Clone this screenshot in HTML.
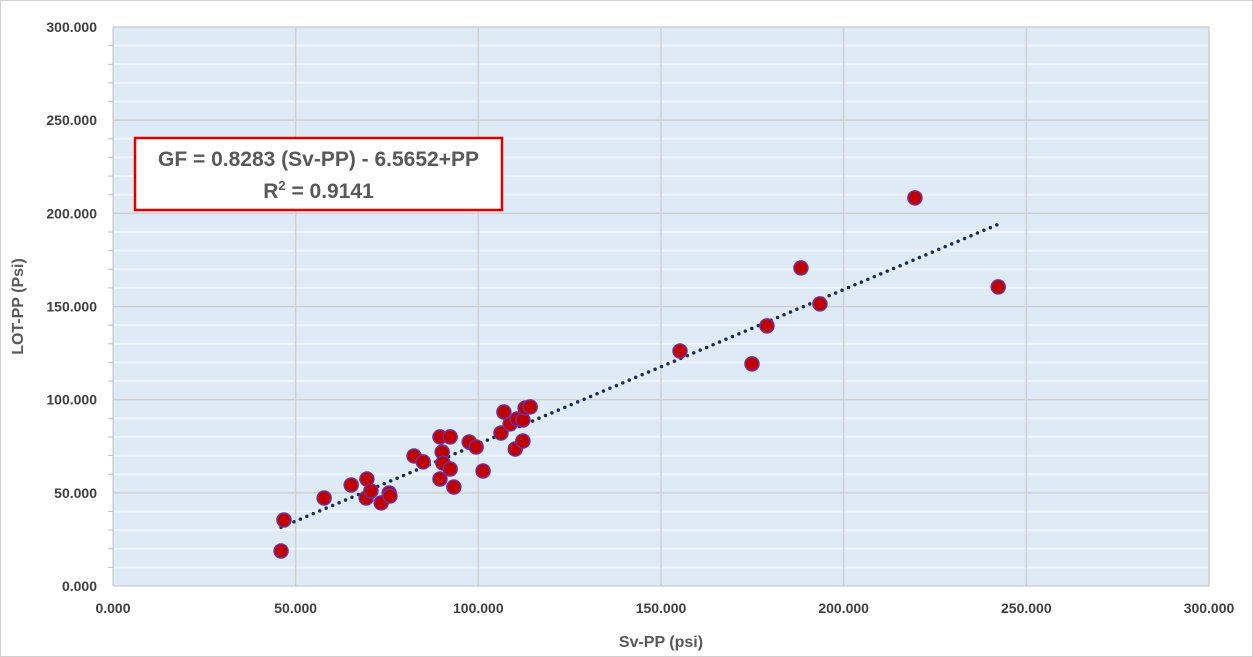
<!DOCTYPE html>
<html><head><meta charset="utf-8"><style>
body{margin:0;background:#fff;}
svg{display:block;font-family:"Liberation Sans",sans-serif;}
</style></head><body>
<svg id="chart" width="1253" height="657">
<rect x="0.5" y="0.5" width="1252" height="656" fill="#fff" stroke="#d0d0d0"/>
<g id="plot"></g>
</svg>
<script>
const xVals=[46.0,46.8,57.8,65.2,69.5,69.3,70.6,73.4,75.6,75.8,82.4,84.9,89.5,90.1,89.5,90.3,92.3,92.3,93.3,97.5,99.4,101.3,106.2,107.0,108.7,110.1,110.6,112.2,112.2,112.8,114.2,155.2,174.9,179.0,188.3,193.5,219.5,242.3];
const yVals=[18.8,35.4,47.2,54.2,57.4,47.2,51.0,44.6,49.9,48.3,69.8,66.6,80.0,71.9,57.4,66.0,80.0,62.8,53.1,77.3,74.6,61.7,82.1,93.4,87.0,73.5,89.6,89.1,77.8,95.5,96.1,126.1,119.2,139.6,170.7,151.4,208.3,160.5];
const xTicks=[0,50,100,150,200,250,300];
const yTicks=[0,50,100,150,200,250,300];
const xTickLabels=["0.000","50.000","100.000","150.000","200.000","250.000","300.000"];
const yTickLabels=["0.000","50.000","100.000","150.000","200.000","250.000","300.000"];
const trendSlope=0.8283, trendIntercept=-6.5652;
const L=113,R=1209,T=27,B=586;
const sx=v=>L+(v/300)*(R-L);
const sy=v=>B-(v/300)*(B-T);
const g=document.getElementById('plot');
const NS='http://www.w3.org/2000/svg';
function mk(tag,attrs,parent){const e=document.createElementNS(NS,tag);for(const k in attrs)e.setAttribute(k,attrs[k]);(parent||g).appendChild(e);return e;}
let e=mk('rect',{x:L,y:T,width:R-L,height:B-T,fill:'#deebf7'});


for(let v=10;v<300;v+=10){if(v%50===0)continue;
e=mk('line',{x1:L,x2:R,y1:sy(v),y2:sy(v),stroke:'#eef4fb','stroke-width':2});


e=mk('line',{x1:L-5,x2:L,y1:sy(v),y2:sy(v),stroke:'#bfbfbf'});

}
yTicks.forEach((v,i)=>{
 if(v>0){e=mk('line',{x1:L,x2:R,y1:sy(v),y2:sy(v),stroke:'#d0d0d0','stroke-width':1.5});
 
 }
 e=mk('text',{x:97,y:sy(v)+5,'text-anchor':'end','font-size':14,'font-weight':'bold',fill:'#404040'});
 e.textContent=yTickLabels[i];
 
 
});
xTicks.forEach((v,i)=>{
 if(v>0){e=mk('line',{x1:sx(v),x2:sx(v),y1:T,y2:B,stroke:'#d0d0d0','stroke-width':1.5});
 
 }
 e=mk('text',{x:sx(v),y:613,'text-anchor':'middle','font-size':14,'font-weight':'bold',fill:'#404040'});
 e.textContent=xTickLabels[i];
 
 
});
e=mk('line',{x1:L,x2:L,y1:T,y2:B,stroke:'#bfbfbf'});


e=mk('line',{x1:L,x2:R,y1:B,y2:B,stroke:'#bfbfbf'});


const xmin=Math.min(...xVals),xmax=Math.max(...xVals);
e=mk('line',{x1:sx(xmin),y1:sy(trendSlope*xmin+trendIntercept),x2:sx(xmax),y2:sy(trendSlope*xmax+trendIntercept),stroke:'#172b55','stroke-width':3.5,'stroke-dasharray':'0 7','stroke-linecap':'round'});


xVals.forEach((x,i)=>{
 e=mk('circle',{cx:sx(x),cy:sy(yVals[i]),r:7,fill:'#c00000',stroke:'#7030a0','stroke-width':1.5});
 
 
});
e=mk('text',{x:(L+R)/2,y:647,'text-anchor':'middle','font-size':16,'font-weight':'bold',fill:'#595959'});
e.textContent='Sv-PP (psi)';


e=mk('text',{x:0,y:0,'text-anchor':'middle','font-size':16,'font-weight':'bold',fill:'#595959',transform:'translate(23,'+((T+B)/2)+') rotate(-90)'});
e.textContent='LOT-PP (Psi)';


const box=mk('g',{});


mk('rect',{x:135,y:138,width:367,height:72,fill:'#fff',stroke:'#e00000','stroke-width':2.5},box);
e=mk('text',{x:318.5,y:166,'text-anchor':'middle','font-size':21,'font-weight':'bold',fill:'#595959'},box);
e.textContent='GF = 0.8283 (Sv-PP) - 6.5652+PP';


e=mk('text',{x:318.5,y:198,'text-anchor':'middle','font-size':21,'font-weight':'bold',fill:'#595959'},box);
e.innerHTML='R<tspan dy="-8" font-size="13">2</tspan><tspan dy="8"> = 0.9141</tspan>';


</script>
</body></html>
